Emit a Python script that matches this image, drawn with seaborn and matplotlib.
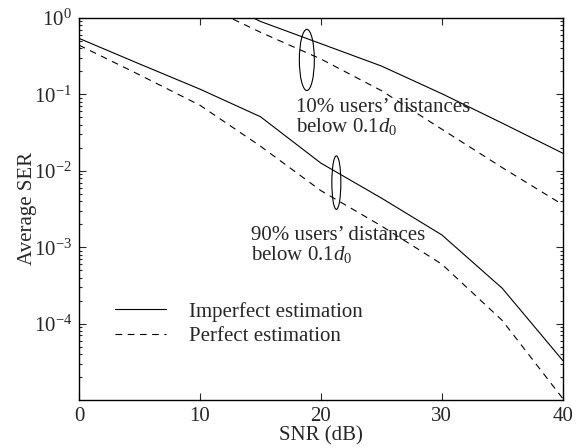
import numpy as np
import pandas as pd
import matplotlib
matplotlib.use("Agg")
import matplotlib.pyplot as plt
import seaborn as sns
from matplotlib.patches import Ellipse
from matplotlib.lines import Line2D
from matplotlib.ticker import LogLocator, NullFormatter, FixedLocator

# ---- data ----
snr = [0, 5, 10, 15, 20, 25, 30, 35, 40]
snr_10 = [10, 15, 20, 25, 30, 35, 40]
ser_10_imperfect = [2.2, 0.90, 0.46, 0.235, 0.102, 0.042, 0.017]
ser_10_perfect = [1.55, 0.65, 0.29, 0.112, 0.035, 0.011, 0.0036]
ser_90_imperfect = [0.54, 0.25, 0.117, 0.051, 0.0126, 0.0044, 0.00145, 0.00029, 3.3e-5]
ser_90_perfect = [0.44, 0.18, 0.072, 0.021, 0.0055, 0.0019, 0.0006, 0.00011, 1.05e-5]
x_ticks = [0, 10, 20, 30, 40]
y_ticks = [1e-4, 1e-3, 1e-2, 1e-1, 1e0]
legend_labels = ["Imperfect estimation", "Perfect estimation"]
ann_10 = "10% users\u2019 distances\nbelow 0.1$\\mathit{d}_0$"
ann_90 = "90% users\u2019 distances\nbelow 0.1$\\mathit{d}_0$"

rows = []
for x, y in zip(snr_10, ser_10_imperfect):
    rows.append((x, y, "10%", legend_labels[0]))
for x, y in zip(snr_10, ser_10_perfect):
    rows.append((x, y, "10%", legend_labels[1]))
for x, y in zip(snr, ser_90_imperfect):
    rows.append((x, y, "90%", legend_labels[0]))
for x, y in zip(snr, ser_90_perfect):
    rows.append((x, y, "90%", legend_labels[1]))
df = pd.DataFrame(rows, columns=["snr", "ser", "group", "est"])

sns.set_style("ticks")
plt.rcParams["font.family"] = ["Liberation Serif", "DejaVu Serif"]
plt.rcParams["mathtext.fontset"] = "custom"
plt.rcParams["mathtext.rm"] = "Liberation Serif"
plt.rcParams["mathtext.it"] = "Liberation Serif:italic"
plt.rcParams["mathtext.default"] = "regular"

fs = 15
fig = plt.figure(figsize=(5.88, 4.48), dpi=100)
ax = fig.add_axes([0.1344, 0.107, 0.8226, 0.853])

dash = (6, 5)
sns.lineplot(data=df, x="snr", y="ser", style="est", units="group",
             estimator=None, color="black", linewidth=0.8,
             dashes={legend_labels[0]: "", legend_labels[1]: dash},
             style_order=legend_labels, legend=False, ax=ax)

ax.set_yscale("log")
ax.set_xlim(0, 40)
ax.set_ylim(1e-5, 1)
ax.xaxis.set_major_locator(FixedLocator(x_ticks))
ax.set_xticklabels([str(t) for t in x_ticks], fontsize=fs)
ax.yaxis.set_major_locator(FixedLocator(y_ticks))
ax.set_yticklabels([r"$10^{%d}$" % int(np.log10(t)) for t in y_ticks], fontsize=fs)
ax.yaxis.set_minor_locator(LogLocator(base=10, subs=np.arange(2, 10)))
ax.yaxis.set_minor_formatter(NullFormatter())
ax.tick_params(which="both", direction="in", top=True, right=True, width=0.8)
ax.tick_params(which="major", length=5, pad=5)
ax.tick_params(which="minor", length=2.5)
for s in ax.spines.values():
    s.set_linewidth(1.0)
    s.set_color("black")

ax.set_xlabel("SNR (dB)", fontsize=fs, labelpad=0)
ax.set_ylabel("Average SER", fontsize=fs, labelpad=-2)

ax.text(0.448, 0.790, ann_10, transform=ax.transAxes, fontsize=fs,
        va="top", ha="left", linespacing=0.9)
ax.text(0.356, 0.455, ann_90, transform=ax.transAxes, fontsize=fs,
        va="top", ha="left", linespacing=0.9)

ax.add_patch(Ellipse((0.471, 0.890), 0.031, 0.160, transform=ax.transAxes,
                     fill=False, edgecolor="black", linewidth=0.8))
ax.add_patch(Ellipse((0.532, 0.569), 0.0186, 0.140, transform=ax.transAxes,
                     fill=False, edgecolor="black", linewidth=0.8))

handles = [Line2D([], [], color="black", linewidth=0.8),
           Line2D([], [], color="black", linewidth=0.8, dashes=dash)]
ax.legend(handles, legend_labels, loc="upper left",
          bbox_to_anchor=(0.0744, 0.257), frameon=False, fontsize=fs,
          handlelength=2.43, handletextpad=1.1, labelspacing=0.23,
          borderpad=0, borderaxespad=0)

fig.savefig("out.png", dpi=100)
